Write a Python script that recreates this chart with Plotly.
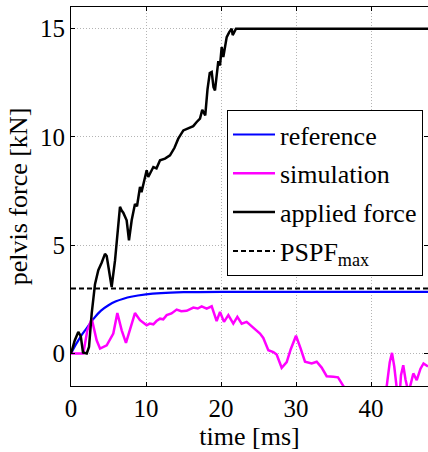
import plotly.graph_objects as go

# ---- data ----
t_ref = [0, 0.5, 1, 1.5, 2, 3, 4, 5, 6, 7, 8, 10, 12, 15, 20, 30, 47.6]
y_ref = [0, 0.33, 0.62, 0.89, 1.13, 1.6, 1.98, 2.23, 2.41, 2.53, 2.62, 2.73, 2.79, 2.83, 2.85, 2.85, 2.85]

t_sim = [0, 1.64, 2.18, 2.76, 3.42, 3.87, 4.76, 5.64, 6.18, 6.76, 7.33, 8.09, 8.53, 9.2, 9.6, 10.09,
         10.5, 10.98, 11.4, 11.87, 12.3, 12.76, 13.4, 14.09, 14.7, 15.42, 16.31, 16.9, 17.42, 18.09,
         18.76, 19.42, 19.87, 20.4, 20.98, 21.64, 22.18, 22.76, 23.42, 24.31, 25.2, 25.64, 26.31,
         26.98, 27.42, 28.09, 28.76, 29.3, 30.0, 30.6, 31.2, 32.09, 32.76, 33.42, 34.09, 34.98, 35.6,
         36.4, 37.5, 39, 41, 42.1, 42.5, 42.8, 43.1, 43.5, 43.8, 44.0, 44.3, 44.6, 45.0, 45.3, 45.64,
         46.1, 46.6, 47.0, 47.6]
y_sim = [0, 0, 1.07, 1.61, 0.61, 0.23, 0.38, 0.92, 1.87, 1.07, 0.49, 1.38, 1.87, 1.54, 1.42, 1.3,
         1.38, 1.35, 1.5, 1.61, 1.58, 1.77, 1.85, 2.03, 1.95, 1.97, 2.12, 2.08, 2.18, 2.07,
         2.18, 1.5, 1.92, 1.46, 1.77, 1.38, 1.69, 1.38, 1.46, 1.2, 0.92, 0.72, 0.15,
         0.07, -0.05, -0.66, -0.4, 0.2, 0.82, 0.25, -0.38, -0.46, -0.38, -0.65, -1.05, -1.07, -1.1,
         -1.55, -2.2, -2.8, -2.6, -1.5, -0.4, 0.03, -0.6, -1.8, -2.0, -1.0, -0.54, -1.2, -1.8, -1.4, -0.92,
         -1.23, -0.7, -0.46, -0.6]

t_app = [0, 0.5, 0.97, 1.3, 1.6, 2.1, 2.4, 2.76, 3.2, 3.64, 4.1, 4.53, 4.76, 5.1, 5.42, 5.87, 6.3,
         6.53, 6.76, 6.97, 7.42, 7.73, 8.09, 8.53, 8.8, 9.2, 9.4, 9.64, 10.09, 10.3, 10.98, 11.4,
         11.87, 12.53, 13.2, 13.8, 14.3, 14.98, 15.87, 16.3, 16.76, 17.2, 17.5, 17.9, 18.2, 18.5,
         18.76, 19.0, 19.2, 19.64, 19.87, 20.09, 20.31, 20.76, 21.1, 21.42, 21.56, 22.0, 47.6]
y_app = [0, 0.6, 1.0, 0.8, 0.05, 0, 0.3, 1.85, 3.2, 3.85, 4.2, 4.6, 4.5, 3.8, 3.07, 4.3, 5.7,
         6.77, 6.6, 6.5, 6.15, 5.23, 6.15, 6.9, 6.8, 7.69, 7.45, 7.77, 8.46, 8.15, 8.61, 8.55,
         8.92, 9.0, 9.15, 9.5, 9.92, 10.3, 10.46, 10.5, 10.69, 10.85, 11.25, 11.0, 12.2, 12.95,
         13.0, 12.3, 12.15, 13.5, 13.3, 14.15, 13.69, 14.61, 14.84, 15.0, 14.7, 15.0, 15.0]

t_pspf = [0, 47.6]
y_pspf = [3.0, 3.0]

x_ticks = [0, 10, 20, 30, 40]
y_ticks = [0, 5, 10, 15]

FONT = "Liberation Serif"

fig = go.Figure()
fig.add_trace(go.Scatter(x=t_pspf, y=y_pspf, mode="lines", name="PSPF<sub>max</sub>",
                         line=dict(color="black", width=2, dash="5px,3px"), legendrank=4,
                         legendgroup="d"))
fig.add_trace(go.Scatter(x=t_ref, y=y_ref, mode="lines", name="reference",
                         line=dict(color="#0000ff", width=2.2, shape="spline"), legendrank=1,
                         legendgroup="a"))
fig.add_trace(go.Scatter(x=t_sim, y=y_sim, mode="lines", name="simulation",
                         line=dict(color="#ff00ff", width=2.5), legendrank=2, legendgroup="b"))
fig.add_trace(go.Scatter(x=t_app, y=y_app, mode="lines", name="applied force",
                         line=dict(color="black", width=2.5), legendrank=3, legendgroup="c"))

grid = dict(showgrid=True, gridcolor="#b4b4b4", griddash="1px,2px", gridwidth=1, zeroline=False)

fig.update_layout(
    width=428, height=452,
    margin=dict(l=71, r=0, t=7, b=66),
    paper_bgcolor="white", plot_bgcolor="white",
    font=dict(family=FONT, size=25, color="#000000"),
    xaxis=dict(range=[0, 47.6], tickvals=x_ticks,
               showline=True, linecolor="black", linewidth=1, mirror="ticks",
               ticks="inside", ticklen=4, tickcolor="black",
               tickfont=dict(family=FONT, size=25),
               title=dict(text="time [ms]", font=dict(family=FONT, size=26),
                          standoff=2), **grid),
    yaxis=dict(range=[-1.5, 16], tickvals=y_ticks,
               showline=True, linecolor="black", linewidth=1, mirror="ticks",
               ticks="inside", ticklen=4, tickcolor="black",
               tickfont=dict(family=FONT, size=25),
               title=dict(text="pelvis force [kN]", font=dict(family=FONT, size=26),
                          standoff=4), **grid),
    legend=dict(x=0.986, y=0.728, xanchor="right", yanchor="top",
                bgcolor="white", bordercolor="black", borderwidth=1,
                font=dict(family=FONT, size=26), traceorder="grouped",
                tracegroupgap=2, itemwidth=42),
    showlegend=True,
)

fig.write_html("out.html")
